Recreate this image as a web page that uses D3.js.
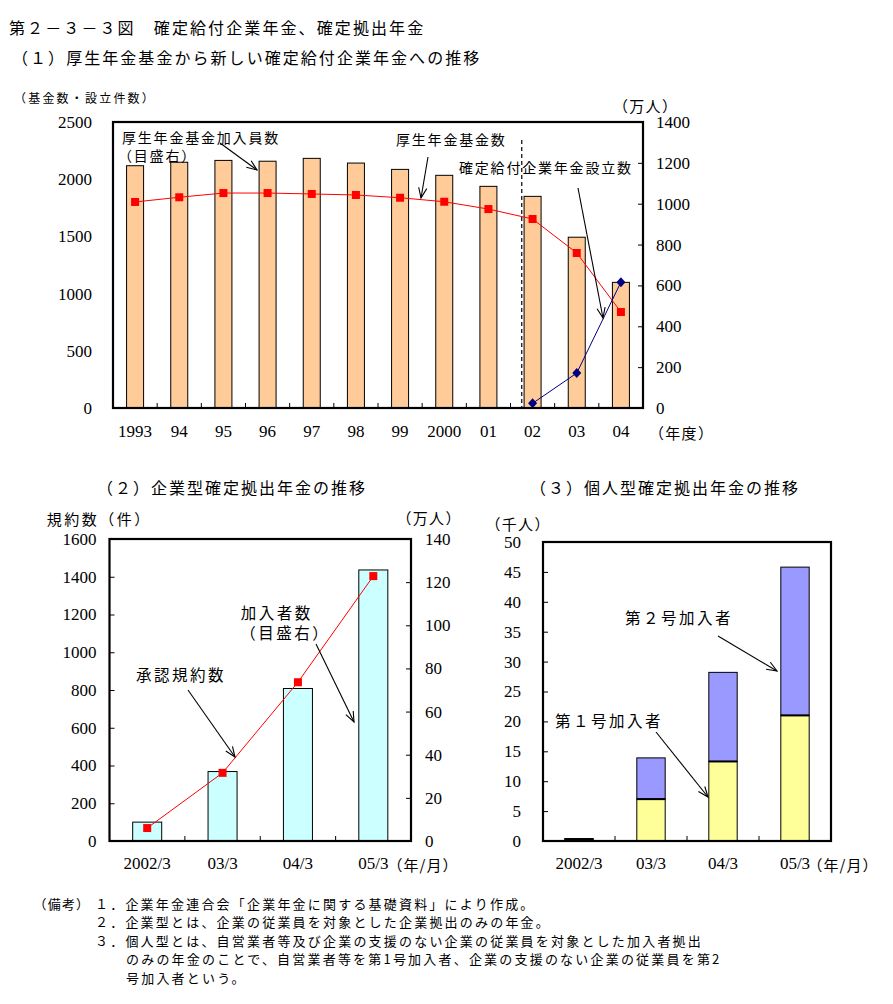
<!DOCTYPE html>
<html><head><meta charset="utf-8">
<script src="https://cdn.jsdelivr.net/npm/d3@7"></script>
<style>body{margin:0;background:#fff}svg{display:block}</style>
</head><body>
<svg id="c" width="893" height="1004"></svg>
<script>
// ---------- data ----------
const years = ["1993","94","95","96","97","98","99","2000","01","02","03","04"];
const fundMembers = [1186,1203,1212,1208,1222,1199,1168,1139,1085,1036,836,615]; // 万人 (right axis, bars)
const fundCounts = [1801,1842,1879,1879,1871,1862,1838,1803,1739,1652,1355,839]; // 基金数 (left axis)
const dbYears = ["02","03","04"];
const dbCounts = [41,305,1100]; // 確定給付企業年金設立数 (left axis)
const ticksL1 = [0,500,1000,1500,2000,2500];
const ticksR1 = [0,200,400,600,800,1000,1200,1400];

const months = ["2002/3","03/3","04/3","05/3"];
const corpPlans = [100,368,808,1436];      // 承認規約数 (件)
const corpMembers = [6.0,31.6,73.6,122.8]; // 加入者数 (万人)
const ticksL2 = [0,200,400,600,800,1000,1200,1400,1600];
const ticksR2 = [0,20,40,60,80,100,120,140];

const indivType1 = [0.3,7.0,13.3,21.0];  // 第1号加入者 (千人)
const indivType2 = [0.1,6.9,14.9,24.8];  // 第2号加入者 (千人)
const ticks3 = [0,5,10,15,20,25,30,35,40,45,50];

// ---------- helpers ----------
const JP = "'Noto Sans CJK JP','Noto Sans CJK SC',sans-serif";
const NUM = "'Liberation Serif','Noto Sans CJK JP',serif";
const svg = d3.select("#c");

function label(str, x, y, size, ls, anchor) {
  return svg.append("text").attr("x", x).attr("y", y)
    .attr("font-family", JP).attr("font-size", size)
    .attr("letter-spacing", ls).attr("dominant-baseline", "central")
    .attr("text-anchor", anchor || "start").attr("fill", "#000").text(str);
}
function arrow(x1, y1, x2, y2) {
  const g = svg.append("g").attr("stroke", "#000").attr("stroke-width", 1.1).attr("fill", "none");
  g.append("line").attr("x1", x1).attr("y1", y1).attr("x2", x2).attr("y2", y2);
  const a = Math.atan2(y2 - y1, x2 - x1), L = 11, s = 0.38;
  g.append("path").attr("d",
    `M${x2 - L * Math.cos(a - s)},${y2 - L * Math.sin(a - s)}L${x2},${y2}L${x2 - L * Math.cos(a + s)},${y2 - L * Math.sin(a + s)}`);
}
function styleAxis(g) {
  g.select(".domain").remove();
  g.selectAll("text").attr("font-family", NUM).attr("font-size", 17).attr("fill", "#000");
  g.selectAll("line").attr("stroke", "#000");
}
function boundaryTicks(x, cats, yb) {
  cats.slice(1).forEach(c => {
    svg.append("line").attr("x1", x(c)).attr("x2", x(c)).attr("y1", yb).attr("y2", yb - 5)
      .attr("stroke", "#000").attr("stroke-width", 1);
  });
}
function frame(x0, y0, x1, y1) {
  svg.append("rect").attr("x", x0).attr("y", y0).attr("width", x1 - x0).attr("height", y1 - y0)
    .attr("fill", "none").attr("stroke", "#000").attr("stroke-width", 2.2);
}
function squares(pts, color) {
  svg.append("g").selectAll("rect").data(pts).join("rect")
    .attr("x", d => d[0] - 4).attr("y", d => d[1] - 4).attr("width", 8).attr("height", 8).attr("fill", color);
}

// ---------- titles ----------
label("第２－３－３図　確定給付企業年金、確定拠出年金", 9, 27, 16, 2.1);
label("（１）厚生年金基金から新しい確定給付企業年金への推移", 12, 57, 16, 2.05);

// ---------- chart 1 ----------
{
  const X0 = 113, X1 = 643, YT = 122, YB = 408;
  const x = d3.scaleBand().domain(years).range([X0, X1]);
  const yL = d3.scaleLinear().domain([0, 2500]).range([YB, YT]);
  const yR = d3.scaleLinear().domain([0, 1400]).range([YB, YT]);
  const bw = x.bandwidth(), barW = bw * 0.385;
  const cx = c => x(c) + bw / 2;

  svg.append("g").selectAll("rect").data(years).join("rect")
    .attr("x", (d) => cx(d) - barW / 2).attr("width", barW)
    .attr("y", (d, i) => yR(fundMembers[i])).attr("height", (d, i) => YB - yR(fundMembers[i]))
    .attr("fill", "#FFCC99").attr("stroke", "#000").attr("stroke-width", 1);

  // dashed divider
  svg.append("line").attr("x1", x("02") + bw * 0.255).attr("x2", x("02") + bw * 0.255)
    .attr("y1", 140).attr("y2", YB).attr("stroke", "#000").attr("stroke-dasharray", "4,3").attr("stroke-width", 1.2);

  const redPts = years.map((c, i) => [cx(c), yL(fundCounts[i])]);
  svg.append("path").attr("d", d3.line()(redPts))
    .attr("fill", "none").attr("stroke", "#FF0000").attr("stroke-width", 1);
  squares(redPts, "#FF0000");

  const bluePts = dbYears.map((c, i) => [cx(c), yL(dbCounts[i])]);
  svg.append("path").attr("d", d3.line()(bluePts))
    .attr("fill", "none").attr("stroke", "#000080").attr("stroke-width", 1);
  svg.append("g").selectAll("path").data(bluePts).join("path")
    .attr("d", d => `M${d[0]},${d[1] - 5}L${d[0] + 4.5},${d[1]}L${d[0]},${d[1] + 5}L${d[0] - 4.5},${d[1]}Z`)
    .attr("fill", "#000080");

  svg.append("g").attr("transform", `translate(${X0},0)`)
    .call(d3.axisLeft(yL).tickValues(ticksL1).tickSize(0).tickPadding(21).tickFormat(d3.format("d"))).call(styleAxis);
  svg.append("g").attr("transform", `translate(${X1},0)`)
    .call(d3.axisRight(yR).tickValues(ticksR1).tickSizeInner(-5).tickSizeOuter(0).tickPadding(13).tickFormat(d3.format("d"))).call(styleAxis);
  svg.append("g").attr("transform", `translate(0,${YB})`)
    .call(d3.axisBottom(x).tickSize(0).tickPadding(17)).call(styleAxis);
  boundaryTicks(x, years, YB);
  frame(X0, YT, X1, YB);

  label("（基金数・設立件数）", 14, 97, 12, 2.2);
  label("（万人）", 613, 105, 15, 1.3);
  label("（年度）", 649, 432, 15, 1.3);
  label("厚生年金基金加入員数", 122, 137, 14, 1.8);
  label("（目盛右）", 118, 155, 14, 1.8);
  label("厚生年金基金数", 396, 139, 14, 1.8);
  label("確定給付企業年金設立数", 459, 167, 14, 1.8);
  arrow(220, 143, 257, 170);
  arrow(428, 157, 421, 198);
  arrow(578, 188, 603, 318);
}

// ---------- chart 2 ----------
label("（２）企業型確定拠出年金の推移", 97, 487, 16, 2);
{
  const X0 = 109.5, X1 = 411, YT = 539, YB = 841;
  const x = d3.scaleBand().domain(months).range([X0, X1]);
  const yL = d3.scaleLinear().domain([0, 1600]).range([YB, YT]);
  const yR = d3.scaleLinear().domain([0, 140]).range([YB, YT]);
  const bw = x.bandwidth(), barW = bw * 0.385;
  const cx = c => x(c) + bw / 2;

  svg.append("g").selectAll("rect").data(months).join("rect")
    .attr("x", d => cx(d) - barW / 2).attr("width", barW)
    .attr("y", (d, i) => yL(corpPlans[i])).attr("height", (d, i) => YB - yL(corpPlans[i]))
    .attr("fill", "#CCFFFF").attr("stroke", "#000").attr("stroke-width", 1);

  const pts = months.map((c, i) => [cx(c), yR(corpMembers[i])]);
  svg.append("path").attr("d", d3.line()(pts))
    .attr("fill", "none").attr("stroke", "#FF0000").attr("stroke-width", 1);
  squares(pts, "#FF0000");

  svg.append("g").attr("transform", `translate(${X0},0)`)
    .call(d3.axisLeft(yL).tickValues(ticksL2).tickSizeInner(-5).tickSizeOuter(0).tickPadding(13).tickFormat(d3.format("d"))).call(styleAxis);
  svg.append("g").attr("transform", `translate(${X1},0)`)
    .call(d3.axisRight(yR).tickValues(ticksR2).tickSizeInner(-5).tickSizeOuter(0).tickPadding(14).tickFormat(d3.format("d"))).call(styleAxis);
  svg.append("g").attr("transform", `translate(0,${YB})`)
    .call(d3.axisBottom(x).tickSize(0).tickPadding(16)).call(styleAxis);
  boundaryTicks(x, months, YB);
  frame(X0, YT, X1, YB);

  label("規約数（件）", 46.7, 518, 15, 2.5);
  label("（万人）", 396.5, 517, 15, 1.3);
  label("（年/月）", 387.5, 864, 15, 1);
  label("承認規約数", 136, 674, 15.5, 2.5);
  label("加入者数", 240.7, 612, 15.5, 2.5);
  label("（目盛右）", 240.3, 632, 15.5, 2.5);
  arrow(188, 690, 235, 757);
  arrow(316, 644, 354, 722);
}

// ---------- chart 3 ----------
label("（３）個人型確定拠出年金の推移", 530, 487, 16, 2);
{
  const X0 = 543, X1 = 831, YT = 542, YB = 841;
  const x = d3.scaleBand().domain(months).range([X0, X1]);
  const y = d3.scaleLinear().domain([0, 50]).range([YB, YT]);
  const bw = x.bandwidth(), barW = bw * 0.394;
  const cx = c => x(c) + bw / 2;

  const g = svg.append("g");
  months.forEach((c, i) => {
    const y1 = y(indivType1[i]), y2 = y(indivType1[i] + indivType2[i]);
    g.append("rect").attr("x", cx(c) - barW / 2).attr("width", barW)
      .attr("y", y2).attr("height", y1 - y2)
      .attr("fill", "#9999FF").attr("stroke", "#000").attr("stroke-width", 1);
    g.append("rect").attr("x", cx(c) - barW / 2).attr("width", barW)
      .attr("y", y1).attr("height", YB - y1)
      .attr("fill", "#FFFF99").attr("stroke", "#000").attr("stroke-width", 1);
    g.append("line").attr("x1", cx(c) - barW / 2).attr("x2", cx(c) + barW / 2)
      .attr("y1", y1).attr("y2", y1).attr("stroke", "#000").attr("stroke-width", 2);
  });

  svg.append("g").attr("transform", `translate(${X0},0)`)
    .call(d3.axisLeft(y).tickValues(ticks3).tickSizeInner(-5).tickSizeOuter(0).tickPadding(22).tickFormat(d3.format("d"))).call(styleAxis);
  svg.append("g").attr("transform", `translate(0,${YB})`)
    .call(d3.axisBottom(x).tickSize(0).tickPadding(16)).call(styleAxis);
  boundaryTicks(x, months, YB);
  frame(X0, YT, X1, YB);

  label("（千人）", 485.5, 523, 15, 1.3);
  label("（年/月）", 807.5, 864, 15, 1);
  label("第２号加入者", 625, 617, 15.5, 2.5);
  label("第１号加入者", 555, 720, 15.5, 2.5);
  arrow(718, 636, 777, 671);
  arrow(656, 732, 708, 797);
}

// ---------- notes ----------
label("（備考）", 33.5, 903, 13, 1.2);
label("１．企業年金連合会「企業年金に関する基礎資料」により作成。", 95, 903, 13, 2.2);
label("２．企業型とは、企業の従業員を対象とした企業拠出のみの年金。", 95, 921.5, 13, 2.2);
label("３．個人型とは、自営業者等及び企業の支援のない企業の従業員を対象とした加入者拠出", 95, 940, 13, 2.2);
label("のみの年金のことで、自営業者等を第1号加入者、企業の支援のない企業の従業員を第2", 126, 958.5, 13, 2.2);
label("号加入者という。", 126, 977, 13, 2.2);
</script>
</body></html>
